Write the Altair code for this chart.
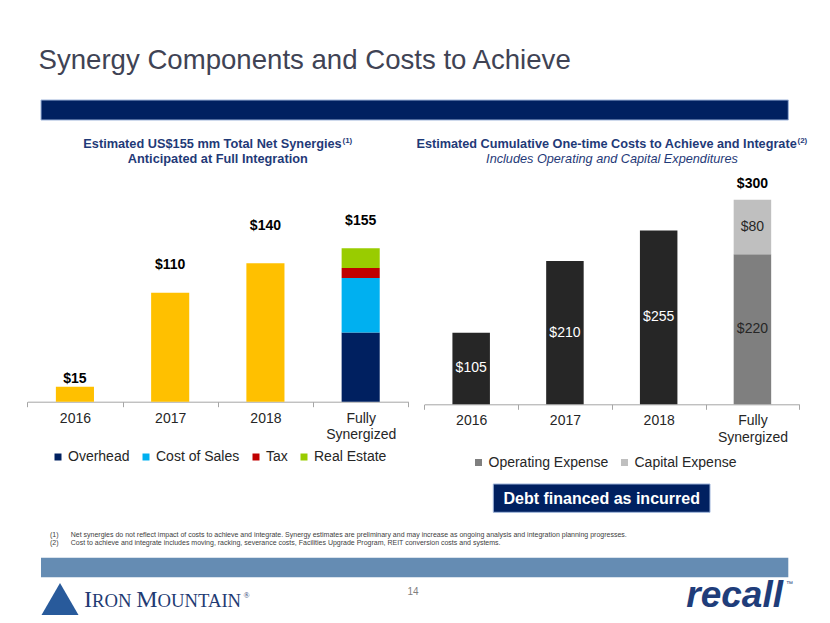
import altair as alt
import pandas as pd

# ---------------- data ----------------
CATEGORIES = ["2016", "2017", "2018", "Fully Synergized"]

# Left panel: estimated net synergies (US$ mm)
NET_SYNERGY_YEARS = ["2016", "2017", "2018"]
NET_SYNERGY_TOTALS = [15, 110, 140]
SYNERGY_COMPONENTS = ["Overhead", "Cost of Sales", "Tax", "Real Estate"]
SYNERGY_COMPONENT_VALUES = [70, 55, 10, 20]

# Right panel: cumulative one-time costs to achieve and integrate (US$ mm)
COST_YEARS = ["2016", "2017", "2018"]
COST_TOTALS = [105, 210, 255]
COST_COMPONENTS = ["Operating Expense", "Capital Expense"]
COST_COMPONENT_VALUES = [220, 80]

FOOTNOTES = [
    "Net synergies do not reflect impact of costs to achieve and integrate. Synergy estimates are preliminary and may increase as ongoing analysis and integration planning progresses.",
    "Cost to achieve and integrate includes moving, racking, severance costs, Facilities Upgrade Program, REIT conversion costs and systems.",
]

# ---------------- style ----------------
W, H = 814, 607
FONT = "Liberation Sans"
SERIF = "Liberation Serif"
NAVY = "#002060"
TITLE_NAVY = "#1F3A78"
LOGO_NAVY = "#1F3B73"
LEFT_COLORS = ["#002060", "#00B0F0", "#C00000", "#99CC00", "#FFC000"]
RIGHT_COLORS = ["#7F7F7F", "#BFBFBF", "#262626"]
LEFT_LABEL_DY = [-8, -28, -37, -27]

LEFT_BASE = 393.7
RIGHT_BASE = 396.3

left_rows = [
    {"category": c, "series": "Net Synergies", "value": v, "k": 0}
    for c, v in zip(NET_SYNERGY_YEARS, NET_SYNERGY_TOTALS)
] + [
    {"category": "Fully Synergized", "series": s, "value": v, "k": i}
    for i, (s, v) in enumerate(zip(SYNERGY_COMPONENTS, SYNERGY_COMPONENT_VALUES))
]
right_rows = [
    {"category": c, "series": "Cumulative", "value": v, "k": 0}
    for c, v in zip(COST_YEARS, COST_TOTALS)
] + [
    {"category": "Fully Synergized", "series": s, "value": v, "k": i}
    for i, (s, v) in enumerate(zip(COST_COMPONENTS, COST_COMPONENT_VALUES))
]
left_df = pd.DataFrame(left_rows)
right_df = pd.DataFrame(right_rows)


def band_axis(offset):
    return alt.Axis(
        orient="bottom", offset=offset, title=None, labelAngle=0, grid=False,
        domainColor="#A6A6A6", tickColor="#A6A6A6", tickSize=5, tickBand="extent",
        labelFont=FONT, labelFontSize=14, labelColor="#262626", labelPadding=4.5,
        labelLineHeight=16.5,
        labelExpr="datum.value == 'Fully Synergized' ? ['Fully', 'Synergized'] : datum.label",
    )


def legend(x, y, values):
    return alt.Legend(
        values=values, orient="none", legendX=x, legendY=y, direction="horizontal",
        title=None, symbolType="square", symbolSize=49, symbolStrokeWidth=0,
        labelFont=FONT, labelFontSize=14, labelColor="#262626", columnPadding=9,
        labelOffset=3, padding=0,
    )


# ---------------- left panel ----------------
xl = alt.X("category:N", sort=CATEGORIES,
           scale=alt.Scale(type="band", domain=CATEGORIES, range=[19.3, 400.3],
                           paddingInner=0, paddingOuter=0),
           axis=band_axis(LEFT_BASE - H))
yl_scale = alt.Scale(domain=[0, 155], range=[LEFT_BASE, LEFT_BASE - 153.4], nice=False, zero=True)

left_stacked = alt.Chart(left_df).transform_stack(
    stack="value", groupby=["category"], as_=["v0", "v1"], sort=[alt.SortField("k", order="ascending")]
)
left_bars = left_stacked.mark_bar(width=alt.RelativeBandSize(0.4)).encode(
    x=xl,
    y=alt.Y("v0:Q", scale=yl_scale, axis=None),
    y2="v1:Q",
    color=alt.Color("series:N",
                    scale=alt.Scale(domain=SYNERGY_COMPONENTS + ["Net Synergies"], range=LEFT_COLORS),
                    legend=legend(43, 442, SYNERGY_COMPONENTS)),
)
left_totals = alt.Chart(left_df).transform_aggregate(
    total="sum(value)", groupby=["category"]
).transform_calculate(label="'$' + datum.total")
left_labels = [
    left_totals.transform_filter(alt.datum.category == c).mark_text(
        dy=d, fontWeight="bold", fontSize=14, color="#000000", baseline="middle", font=FONT
    ).encode(x=xl, y=alt.Y("total:Q", scale=yl_scale, axis=None), text="label:N")
    for c, d in zip(CATEGORIES, LEFT_LABEL_DY)
]
left_layer = alt.layer(left_bars, *left_labels)

# ---------------- right panel ----------------
xr = alt.X("category:N", sort=CATEGORIES,
           scale=alt.Scale(type="band", domain=CATEGORIES, range=[416.3, 791.3],
                           paddingInner=0, paddingOuter=0),
           axis=band_axis(RIGHT_BASE - H))
yr_scale = alt.Scale(domain=[0, 300], range=[RIGHT_BASE, RIGHT_BASE - 204.6], nice=False, zero=True)

right_stacked = alt.Chart(right_df).transform_stack(
    stack="value", groupby=["category"], as_=["v0", "v1"], sort=[alt.SortField("k", order="ascending")]
).transform_calculate(mid="(datum.v0 + datum.v1) / 2", label="'$' + datum.value")
right_bars = right_stacked.mark_bar(width=alt.RelativeBandSize(0.4)).encode(
    x=xr,
    y=alt.Y("v0:Q", scale=yr_scale, axis=None),
    y2="v1:Q",
    color=alt.Color("series:N",
                    scale=alt.Scale(domain=COST_COMPONENTS + ["Cumulative"], range=RIGHT_COLORS),
                    legend=legend(463.5, 447.5, COST_COMPONENTS)),
)
right_inner = right_stacked.mark_text(fontSize=14, baseline="middle", font=FONT).encode(
    x=xr,
    y=alt.Y("mid:Q", scale=yr_scale, axis=None),
    text="label:N",
    color=alt.condition(alt.datum.series == "Cumulative", alt.value("#FFFFFF"), alt.value("#262626")),
)
right_total = alt.Chart(right_df).transform_filter(
    alt.datum.category == "Fully Synergized"
).transform_aggregate(total="sum(value)", groupby=["category"]).transform_calculate(
    label="'$' + datum.total"
).mark_text(dy=-16, fontWeight="bold", fontSize=14, color="#000000", baseline="middle", font=FONT).encode(
    x=xr, y=alt.Y("total:Q", scale=yr_scale, axis=None), text="label:N"
)
right_layer = alt.layer(right_bars, right_inner, right_total)

# ---------------- slide decoration ----------------
one = pd.DataFrame({"a": [0]})


def rect(x, x2, y, y2, fill, stroke=None):
    kw = dict(fill=fill)
    if stroke:
        kw.update(stroke=stroke, strokeWidth=1)
    return alt.Chart(one).mark_rect(**kw).encode(
        x=alt.value(x), x2=alt.value(x2), y=alt.value(y), y2=alt.value(y2))


def text(t, x, y, **kw):
    kw.setdefault("font", FONT)
    return alt.Chart(one).mark_text(text=t, **kw).encode(x=alt.value(x), y=alt.value(y))


LOGO_L, LOGO_S = 24, 18.7
decor = [
    text("Synergy Components and Costs to Achieve", 30.5, 61.3, align="left", baseline="alphabetic",
         fontSize=27.6, color="#404354"),
    rect(33, 780.3, 92, 112, NAVY, "#9DB3D9"),
    # left panel title
    text("Estimated US$155 mm Total Net Synergies", 333.7, 136, align="right", baseline="middle",
         fontSize=12.75, fontWeight="bold", color=TITLE_NAVY),
    text("(1)", 334.5, 132.5, align="left", baseline="middle", fontSize=8, fontWeight="bold", color=TITLE_NAVY),
    text("Anticipated at Full Integration", 209.8, 151.3, align="center", baseline="middle",
         fontSize=12.75, fontWeight="bold", color=TITLE_NAVY),
    # right panel title
    text("Estimated Cumulative One-time Costs to Achieve and Integrate", 788.7, 136, align="right",
         baseline="middle", fontSize=12.7, fontWeight="bold", color=TITLE_NAVY),
    text("(2)", 789.5, 132.5, align="left", baseline="middle", fontSize=8, fontWeight="bold", color=TITLE_NAVY),
    text("Includes Operating and Capital Expenditures", 604, 151.3, align="center", baseline="middle",
         fontSize=12.7, fontStyle="italic", color=TITLE_NAVY),
    # call-out box
    rect(485.3, 702, 476, 504.3, NAVY, "#9DB3D9"),
    text("Debt financed as incurred", 593.7, 490.5, align="center", baseline="middle",
         fontSize=16, fontWeight="bold", color="#FFFFFF"),
    # footnotes
    text("(1)", 42, 527, align="left", baseline="middle", fontSize=7, color="#404040"),
    text(FOOTNOTES[0], 62.7, 527, align="left", baseline="middle", fontSize=7, color="#404040"),
    text("(2)", 42, 535.3, align="left", baseline="middle", fontSize=7, color="#404040"),
    text(FOOTNOTES[1], 62.7, 535.3, align="left", baseline="middle", fontSize=7, color="#404040"),
    # footer
    rect(33, 780.3, 549.7, 569.3, "#658CB3"),
    text("14", 405, 584, align="center", baseline="middle", fontSize=10, color="#7F7F7F"),
    alt.Chart(one).mark_point(shape="triangle-up", filled=True, size=1369, color="#285A9B", opacity=1).encode(
        x=alt.value(52), y=alt.value(591)),
    text("I", 76, 599, align="left", baseline="alphabetic", fontSize=LOGO_L, font=SERIF, color=LOGO_NAVY),
    text("RON", 84.0, 599, align="left", baseline="alphabetic", fontSize=LOGO_S, font=SERIF, color=LOGO_NAVY),
    text("M", 128.2, 599, align="left", baseline="alphabetic", fontSize=LOGO_L, font=SERIF, color=LOGO_NAVY),
    text("OUNTAIN", 149.5, 599, align="left", baseline="alphabetic", fontSize=LOGO_S, font=SERIF,
         color=LOGO_NAVY),
    text("®", 235.5, 588, align="left", baseline="middle", fontSize=8, font=SERIF, color=LOGO_NAVY),
    text("recall", 775, 606.5, align="right", baseline="bottom", fontSize=37, fontWeight="bold",
         fontStyle="italic", color="#1F3D7A"),
    text("™", 778, 576, align="left", baseline="middle", fontSize=7, color="#1F3D7A"),
]

chart = alt.layer(*decor, left_layer, right_layer).resolve_scale(
    x="independent", y="independent", color="independent"
).properties(
    width=W, height=H, autosize=alt.AutoSizeParams(type="none"), padding=0
).configure(font=FONT).configure_view(strokeWidth=0)

chart.save("out.html", embed_options={"renderer": "svg", "actions": False})
